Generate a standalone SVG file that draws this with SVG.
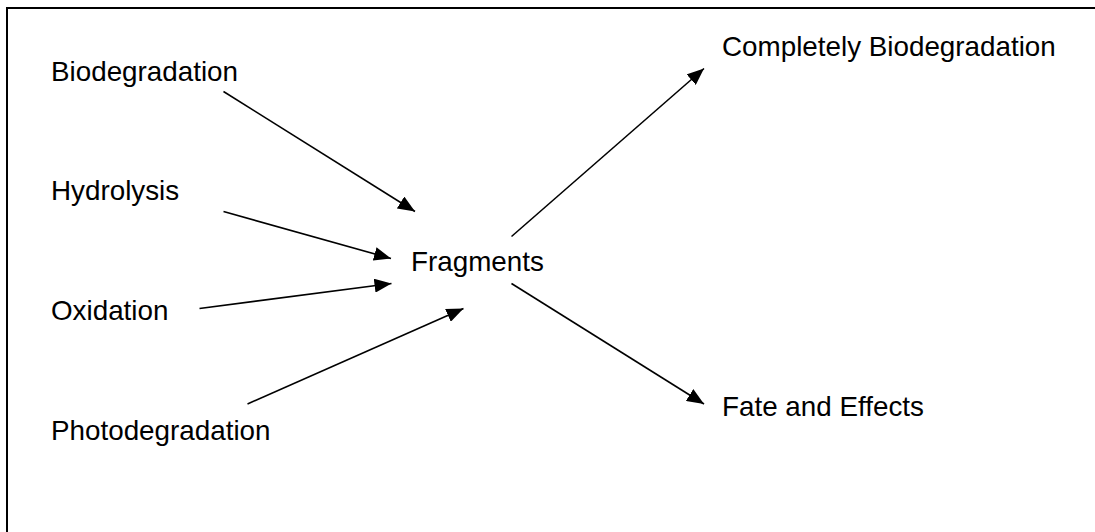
<svg xmlns="http://www.w3.org/2000/svg" width="1095" height="532" viewBox="0 0 1095 532">
<style>
text{font-family:"Liberation Sans",Arial,sans-serif;font-size:27.8px;fill:#000}
.c line{stroke:#000;stroke-width:1.6;marker-end:url(#ah)}
.frame{stroke:#000;stroke-width:2;fill:none}
</style>
<defs>
<marker id="ah" markerUnits="userSpaceOnUse" markerWidth="17" markerHeight="14" refX="17" refY="7" orient="auto">
<path d="M0,0 L17,7 L0,14 z" fill="#000"/>
</marker>
</defs>
<rect width="1095" height="532" fill="#fff"/>
<path class="frame" d="M7,532 V8 H1095"/>
<g id="biodegradation"><text x="51" y="81">Biodegradation</text></g>
<g id="hydrolysis"><text x="51" y="200">Hydrolysis</text></g>
<g id="oxidation"><text x="51" y="320">Oxidation</text></g>
<g id="photodegradation"><text x="51" y="440">Photodegradation</text></g>
<g id="fragments"><text x="411" y="271">Fragments</text></g>
<g id="completely"><text x="722" y="56">Completely Biodegradation</text></g>
<g id="fate"><text x="722" y="416">Fate and Effects</text></g>
<g class="c" id="connectors">
<line x1="223.5" y1="91.5" x2="415" y2="211.5"/>
<line x1="223.5" y1="211.5" x2="391" y2="258.5"/>
<line x1="199.5" y1="308.5" x2="391.5" y2="283.5"/>
<line x1="247.5" y1="404" x2="463.5" y2="308.5"/>
<line x1="511.5" y1="236.5" x2="704" y2="68.5"/>
<line x1="511.5" y1="283.5" x2="704" y2="404"/>
</g>
</svg>
